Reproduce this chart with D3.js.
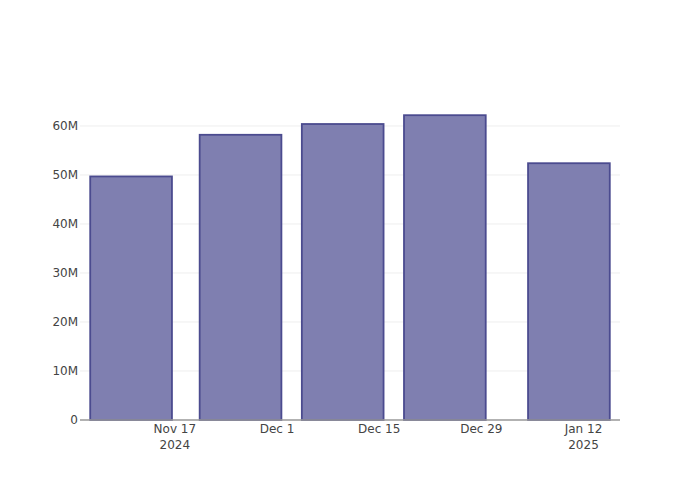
<!DOCTYPE html>
<html><head><meta charset="utf-8">
<script src="https://cdn.jsdelivr.net/npm/d3@7"></script>
<style>body{margin:0;background:#fff}svg{display:block}</style>
</head><body>
<svg id="chart" width="700" height="500"></svg>
<script>
const dates = ["2024-11-11","2024-11-26","2024-12-10","2024-12-24","2025-01-10"];
const values = [49.7e6, 58.2e6, 60.4e6, 62.2e6, 52.4e6];
const yTicks = [0, 10e6, 20e6, 30e6, 40e6, 50e6, 60e6];
const yTickLabels = ["0","10M","20M","30M","40M","50M","60M"];
const xTickDates = ["2024-11-17","2024-12-01","2024-12-15","2024-12-29","2025-01-12"];
const xTickLabels = [["Nov 17","2024"],["Dec 1",""],["Dec 15",""],["Dec 29",""],["Jan 12","2025"]];

const parse = d3.utcParse("%Y-%m-%d");
const W = 700, H = 500, m = {l:80, r:80, t:100, b:80};
const svg = d3.select("#chart");
const x = d3.scaleUtc().domain([parse("2024-11-04"), parse("2025-01-17")]).range([m.l, W - m.r]);
const y = d3.scaleLinear().domain([0, 65.3e6]).range([H - m.b, m.t]);
const dayMs = 86400000;
const barDays = 11.2;
const font = "'DejaVu Sans', sans-serif";

// grid
svg.append("g").selectAll("line").data(yTicks.slice(1)).join("line")
  .attr("x1", m.l).attr("x2", W - m.r)
  .attr("y1", d => y(d)).attr("y2", d => y(d))
  .attr("stroke", "#eee").attr("stroke-width", 1);

// bars
const bw = x(new Date(parse(dates[0]).getTime() + barDays*dayMs)) - x(parse(dates[0]));
svg.append("g").selectAll("rect").data(dates.map((d,i)=>({d:parse(d), v:values[i]}))).join("rect")
  .attr("x", d => x(d.d) - bw/2)
  .attr("width", bw)
  .attr("y", d => y(d.v))
  .attr("height", d => y(0) - y(d.v))
  .attr("fill", "rgb(127,127,176)")
  .attr("stroke", "rgb(75,75,143)")
  .attr("stroke-width", 1.8);

// x axis line
svg.append("line").attr("x1", m.l).attr("x2", W - m.r)
  .attr("y1", y(0)).attr("y2", y(0))
  .attr("stroke", "#999").attr("stroke-width", 1.5);

// y tick labels
svg.append("g").selectAll("text").data(yTicks).join("text")
  .attr("x", m.l - 2).attr("y", d => y(d)).attr("dy", "0.35em")
  .attr("text-anchor", "end")
  .attr("font-family", font).attr("font-size", 12).attr("fill", "#444")
  .text((d,i) => yTickLabels[i]);

// x tick labels
const xt = svg.append("g").selectAll("text").data(xTickDates).join("text")
  .attr("text-anchor", "middle")
  .attr("font-family", font).attr("font-size", 12).attr("fill", "#444");
xt.each(function(d,i){
  const t = d3.select(this);
  const xp = x(parse(d));
  t.append("tspan").attr("x", xp).attr("y", 433).text(xTickLabels[i][0]);
  if (xTickLabels[i][1]) t.append("tspan").attr("x", xp).attr("y", 449).text(xTickLabels[i][1]);
});
</script>
</body></html>
